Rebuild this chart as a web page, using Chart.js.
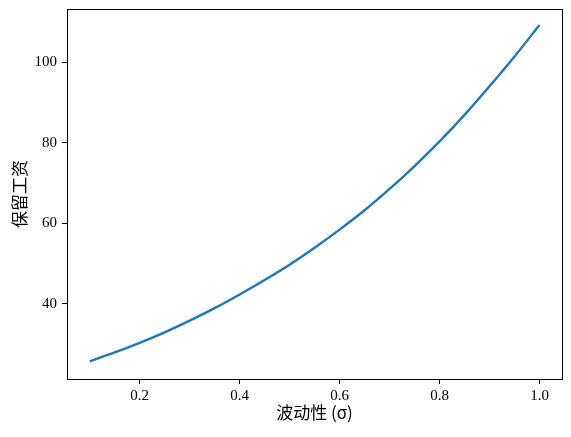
<!DOCTYPE html>
<html>
<head>
<meta charset="utf-8">
<script src="https://cdn.jsdelivr.net/npm/chart.js@4.4.0/dist/chart.umd.min.js"></script>
<style>
html,body{margin:0;padding:0;background:#fff;}
#wrap{width:571px;height:437px;position:relative;}
</style>
</head>
<body>
<div id="wrap"><canvas id="c" width="571" height="437"></canvas></div>
<script>
const sigma = [0.10, 0.15, 0.20, 0.25, 0.30, 0.35, 0.40, 0.45, 0.50, 0.55,
               0.60, 0.65, 0.70, 0.75, 0.80, 0.85, 0.90, 0.95, 1.00];
const wage = [25.7, 27.9, 30.3, 32.9, 35.8, 38.9, 42.3, 45.9, 49.7, 53.9,
              58.4, 63.2, 68.5, 74.2, 80.3, 86.9, 94.0, 101.4, 109.2];
const xTicks = [0.2, 0.4, 0.6, 0.8, 1.0];
const yTicks = [40, 60, 80, 100];
const xLabel = '波动性 (σ)';
const yLabel = '保留工资';

const frame = {
  id: 'frame',
  afterDatasetsDraw(chart) {
    const a = chart.chartArea, ctx = chart.ctx;
    ctx.save();
    ctx.strokeStyle = '#000';
    ctx.lineWidth = 1;
    ctx.strokeRect(Math.round(a.left) + 0.5, Math.round(a.top) + 0.5,
                   Math.round(a.right - a.left), Math.round(a.bottom - a.top));
    ctx.restore();
  }
};

const tickFont = {family: "'Liberation Serif', 'DejaVu Serif', serif", size: 15};
const titleFont = {family: "'Noto Sans CJK SC', 'Liberation Serif', serif", size: 17};

new Chart(document.getElementById('c'), {
  type: 'line',
  data: {
    datasets: [{
      data: sigma.map((s, i) => ({x: s, y: wage[i]})),
      borderColor: '#1f77b4',
      borderWidth: 2.4,
      pointRadius: 0,
      fill: false,
      cubicInterpolationMode: 'monotone'
    }]
  },
  options: {
    responsive: false,
    animation: false,
    devicePixelRatio: 1,
    layout: {padding: {top: 9, right: 9, left: 9, bottom: 14}},
    plugins: {legend: {display: false}, tooltip: {enabled: false}},
    scales: {
      x: {
        type: 'linear',
        min: 0.0545, max: 1.045,
        afterBuildTicks(s) { s.ticks = xTicks.map(v => ({value: v})); },
        afterFit(s) { s.height = 44; s.paddingLeft = 0; s.paddingRight = 0; },
        ticks: {color: '#000', font: tickFont, padding: 3, maxRotation: 0,
                callback: v => Number(v).toFixed(1)},
        grid: {drawOnChartArea: false, drawTicks: true, tickLength: 5, color: '#000'},
        border: {display: true, color: '#000'},
        title: {display: true, text: xLabel, color: '#000', font: titleFont, padding: {top: 0, bottom: 0}}
      },
      y: {
        type: 'linear',
        min: 21.3, max: 113.2,
        afterBuildTicks(s) { s.ticks = yTicks.map(v => ({value: v})); },
        afterFit(s) { s.width = 58; s.paddingTop = 0; s.paddingBottom = 0; },
        ticks: {color: '#000', font: tickFont, padding: 5},
        grid: {drawOnChartArea: false, drawTicks: true, tickLength: 5, color: '#000'},
        border: {display: true, color: '#000'},
        title: {display: true, text: yLabel, color: '#000', font: titleFont, padding: {top: 0, bottom: 0}}
      }
    }
  },
  plugins: [frame]
});
</script>
</body>
</html>
